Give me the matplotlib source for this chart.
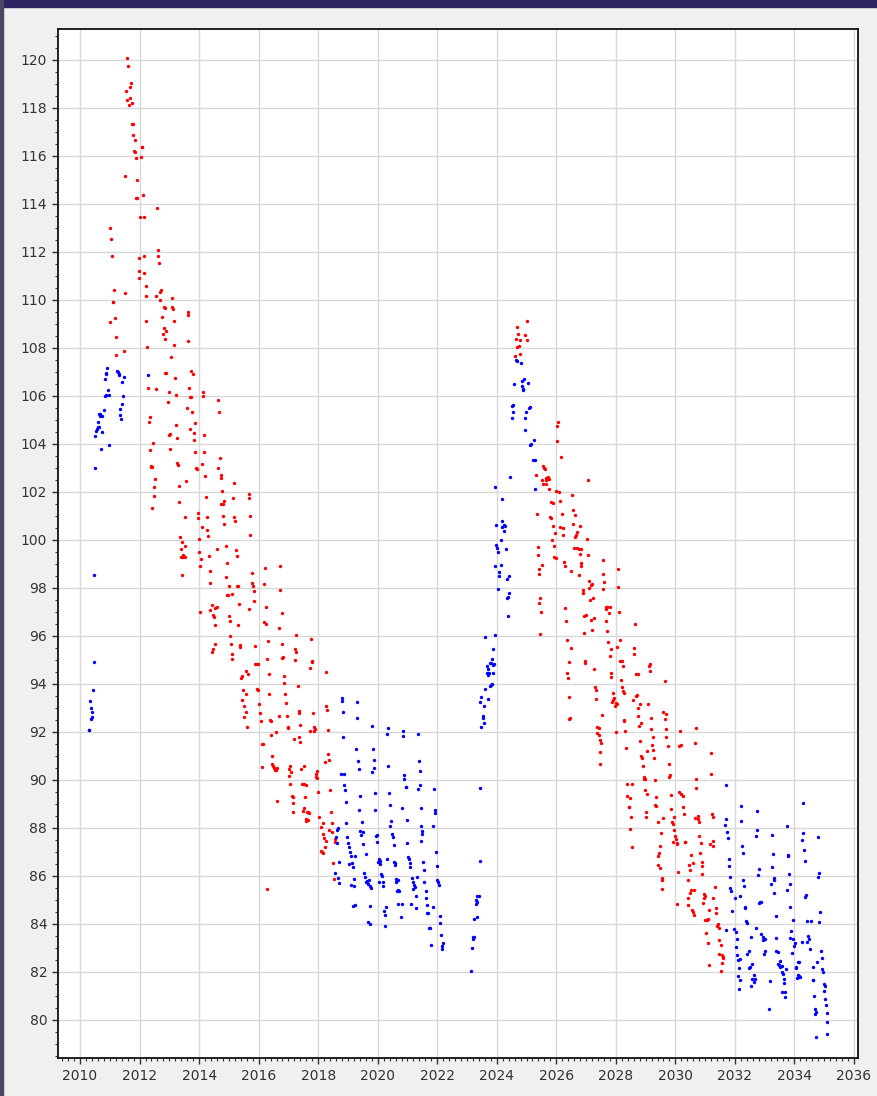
import numpy as np
import matplotlib
matplotlib.use("Agg")
import matplotlib.pyplot as plt
from matplotlib.patches import Rectangle
from matplotlib.ticker import MultipleLocator

# (year, value) pairs, red = declining phase, blue = low / rising phase
red_peak_2011 = [
    (2011.59, 120.07), (2011.61, 119.76), (2011.70, 119.03), (2011.67, 118.89), (2011.55, 118.71),
    (2011.68, 118.42), (2011.57, 118.35), (2011.75, 118.22), (2011.65, 118.14), (2011.75, 117.35),
    (2011.78, 117.35), (2011.77, 116.89), (2011.84, 116.67), (2012.07, 116.36), (2012.09, 116.38),
    (2011.81, 116.22), (2011.86, 116.15), (2011.88, 115.93), (2012.05, 115.95), (2011.52, 115.18),
    (2011.93, 115.00), (2012.10, 114.39), (2011.89, 114.25), (2011.91, 114.23), (2012.59, 113.85),
    (2012.03, 113.46), (2012.14, 113.46), (2011.02, 113.01), (2011.04, 112.54), (2012.61, 112.07),
    (2011.06, 111.83), (2012.63, 111.83), (2011.97, 111.75), (2012.16, 111.82), (2012.65, 111.53),
    (2011.97, 111.22), (2012.16, 111.12), (2011.99, 110.90), (2011.14, 110.43), (2011.51, 110.30),
    (2012.20, 110.60), (2012.71, 110.42), (2012.69, 110.35), (2012.56, 110.18), (2012.22, 110.18),
    (2013.10, 110.10), (2011.12, 109.93), (2011.10, 109.90), (2012.67, 109.99), (2012.81, 109.70),
    (2012.84, 109.65), (2013.09, 109.72), (2013.13, 109.63), (2013.62, 109.51), (2013.64, 109.39),
    (2012.75, 109.30), (2011.16, 109.25), (2010.99, 109.07), (2012.23, 109.13), (2013.14, 109.13),
    (2012.82, 108.82), (2012.90, 108.71), (2012.78, 108.57), (2012.87, 108.38), (2011.20, 108.45),
    (2013.62, 108.28), (2013.17, 108.11), (2012.26, 108.05), (2011.49, 107.86), (2011.21, 107.71),
    (2013.07, 107.63), (2012.87, 106.97), (2012.90, 106.97), (2013.74, 107.04), (2013.80, 106.93),
    (2013.19, 106.75), (2012.29, 106.35), (2012.54, 106.28), (2013.67, 106.32), (2014.13, 106.18),
    (2014.14, 106.01), (2012.98, 106.15), (2013.21, 106.03), (2013.70, 105.96), (2013.73, 105.96),
    (2012.96, 105.74), (2014.65, 105.82), (2013.58, 105.51), (2013.77, 105.32), (2014.67, 105.32),
    (2012.34, 105.14), (2012.32, 104.92), (2013.85, 104.86), (2013.23, 104.79), (2013.71, 104.61),
    (2013.82, 104.46), (2013.03, 104.42), (2013.00, 104.36), (2014.17, 104.38), (2013.25, 104.26),
    (2013.83, 104.18), (2012.44, 104.04), (2012.34, 103.76), (2013.02, 103.79), (2013.87, 103.67),
    (2014.17, 103.67), (2014.69, 103.43), (2013.26, 103.22), (2013.28, 103.13), (2014.11, 103.17),
    (2012.37, 103.05), (2012.39, 103.09), (2012.42, 103.02), (2013.90, 103.00), (2013.92, 102.94),
    (2014.62, 103.01), (2014.74, 102.70), (2014.72, 102.58), (2014.21, 102.67), (2012.53, 102.54),
    (2013.57, 102.46), (2015.16, 102.38), (2012.49, 102.19), (2013.34, 102.26), (2014.78, 102.04),
    (2012.50, 101.83), (2015.69, 101.90), (2015.67, 101.74), (2014.23, 101.78), (2015.14, 101.74),
    (2014.84, 101.61), (2014.75, 101.50), (2014.79, 101.49), (2013.31, 101.58), (2012.42, 101.35),
    (2013.53, 100.97), (2013.95, 101.14), (2013.95, 100.92), (2014.25, 100.97), (2014.81, 101.01),
    (2015.18, 100.96), (2015.21, 100.80), (2015.71, 100.99), (2014.85, 100.67), (2014.09, 100.53),
    (2014.28, 100.40), (2014.30, 100.18), (2015.72, 100.21), (2013.36, 100.14), (2013.98, 100.03),
    (2013.43, 99.90), (2013.54, 99.76), (2013.38, 99.63), (2014.60, 99.63), (2014.89, 99.75),
    (2015.23, 99.58),
]

red_decline_2014 = [
    (2014.00, 99.51), (2014.07, 99.20), (2014.03, 98.92), (2014.33, 99.33), (2015.26, 99.33),
    (2013.45, 99.30), (2013.47, 99.38), (2013.40, 99.28), (2013.52, 99.28), (2013.44, 98.54),
    (2014.35, 98.72), (2014.93, 99.03), (2014.90, 98.45), (2014.38, 98.22), (2015.00, 98.08),
    (2015.27, 98.08), (2015.29, 98.06), (2015.76, 98.63), (2016.23, 98.83), (2016.71, 98.90),
    (2015.78, 98.22), (2015.80, 98.08), (2015.84, 97.86), (2016.19, 98.15), (2016.73, 97.90),
    (2014.94, 97.71), (2014.97, 97.71), (2015.12, 97.74), (2015.84, 97.46), (2015.35, 97.35),
    (2015.66, 97.13), (2014.42, 97.28), (2014.59, 97.21), (2014.55, 97.17), (2014.37, 97.08),
    (2014.04, 97.01), (2014.46, 96.88), (2014.49, 96.80), (2015.02, 96.82), (2014.52, 96.47),
    (2015.04, 96.64), (2015.32, 96.44), (2016.24, 97.22), (2016.77, 96.96), (2016.18, 96.60),
    (2016.25, 96.50), (2016.70, 96.35), (2015.05, 96.00), (2014.55, 95.68), (2014.47, 95.46),
    (2014.43, 95.35), (2015.08, 95.65), (2015.36, 95.63), (2015.38, 95.55), (2015.09, 95.25),
    (2015.12, 95.03), (2015.89, 95.58), (2016.33, 95.79), (2016.78, 95.65), (2017.26, 96.03),
    (2017.76, 95.88), (2017.22, 95.46), (2017.27, 95.33), (2016.28, 95.03), (2016.81, 95.14),
    (2016.80, 95.08), (2017.21, 95.01), (2017.78, 94.96), (2017.80, 94.90), (2017.73, 94.67),
    (2018.27, 94.50), (2015.56, 94.53), (2015.89, 94.83), (2015.95, 94.83), (2015.99, 94.85),
    (2015.64, 94.43), (2015.45, 94.31), (2015.42, 94.24), (2016.35, 94.43), (2016.84, 94.33),
    (2016.86, 94.05), (2017.31, 93.93), (2015.93, 93.80), (2015.97, 93.76), (2015.49, 93.75),
    (2015.59, 93.57), (2016.36, 93.57), (2016.89, 93.60), (2015.45, 93.33), (2015.51, 93.07),
    (2016.02, 93.17), (2016.91, 93.21), (2018.25, 93.10), (2018.30, 92.90), (2015.56, 92.82),
    (2015.52, 92.61), (2016.05, 92.78), (2016.67, 92.67), (2016.94, 92.67), (2017.35, 92.88),
    (2017.34, 92.78), (2017.81, 92.78), (2016.08, 92.46), (2016.38, 92.51), (2016.41, 92.47),
    (2015.61, 92.21), (2016.97, 92.22), (2016.99, 92.18), (2017.40, 92.28), (2017.85, 92.20),
    (2017.88, 92.13), (2017.73, 92.05), (2017.86, 92.05), (2018.32, 92.08), (2016.57, 92.01),
    (2016.43, 91.86), (2017.19, 91.72), (2017.36, 91.78), (2017.39, 91.57), (2016.12, 91.51),
    (2016.15, 91.49), (2018.34, 91.08), (2018.24, 90.76), (2018.35, 90.83), (2016.46, 91.00),
    (2016.45, 90.67), (2016.12, 90.54), (2016.49, 90.56), (2016.53, 90.49), (2016.57, 90.47),
    (2016.63, 90.50), (2016.55, 90.42), (2016.59, 90.42), (2017.06, 90.56), (2017.01, 90.45),
    (2017.10, 90.31), (2017.03, 90.17), (2017.51, 90.60), (2017.43, 90.47), (2017.97, 90.39),
    (2017.93, 90.24), (2017.92, 90.14), (2017.95, 90.10), (2017.07, 89.85), (2017.45, 89.83),
    (2017.52, 89.82), (2017.58, 89.78), (2018.00, 89.51), (2018.40, 89.58), (2017.12, 89.32),
    (2017.16, 89.28), (2017.57, 89.28), (2016.63, 89.14), (2017.16, 89.03), (2017.16, 88.68),
    (2017.53, 88.83), (2017.50, 88.72), (2017.61, 88.67), (2017.65, 88.68), (2017.70, 88.64),
    (2018.42, 88.68), (2018.04, 88.45), (2017.58, 88.38), (2017.60, 88.29), (2017.67, 88.32),
    (2018.15, 88.22), (2018.08, 88.05), (2018.46, 88.21), (2018.36, 87.92), (2018.47, 87.83),
    (2018.16, 87.74), (2018.19, 87.57), (2018.26, 87.47), (2018.22, 87.22), (2018.55, 87.53),
    (2018.57, 87.43), (2018.08, 87.05), (2018.15, 86.97), (2018.13, 87.01), (2018.49, 86.53),
    (2018.52, 85.86), (2016.28, 85.46),
]

red_peak_2025 = [
    (2025.01, 109.13), (2024.68, 108.86), (2024.73, 108.60), (2024.96, 108.54), (2025.02, 108.33),
    (2024.65, 108.39), (2024.78, 108.33), (2024.74, 108.10), (2024.68, 108.04), (2024.79, 107.74),
    (2024.60, 107.67), (2026.05, 104.93), (2026.03, 104.76), (2026.01, 104.13), (2026.16, 103.47),
    (2025.55, 103.08), (2025.60, 103.01), (2025.62, 102.96), (2025.32, 102.71), (2025.65, 102.60),
    (2025.71, 102.61), (2025.75, 102.54), (2025.67, 102.50), (2025.72, 102.53), (2025.52, 102.50),
    (2025.56, 102.35), (2025.66, 102.32), (2025.75, 102.14), (2027.07, 102.50), (2025.98, 102.03),
    (2026.09, 102.01), (2025.82, 101.60), (2025.88, 101.53), (2026.12, 101.64), (2026.53, 101.86),
    (2025.34, 101.08), (2025.80, 100.96), (2025.83, 100.92), (2026.18, 101.08), (2026.56, 101.26),
    (2026.62, 101.03), (2025.88, 100.58), (2026.14, 100.55), (2026.24, 100.49), (2026.55, 100.68),
    (2026.79, 100.60), (2025.95, 100.28), (2026.22, 100.19), (2026.70, 100.33), (2026.66, 100.21),
    (2026.64, 100.13), (2027.03, 100.05), (2025.86, 100.01), (2025.37, 99.72), (2025.91, 99.75),
    (2026.59, 99.68), (2026.68, 99.68), (2026.75, 99.61), (2026.82, 99.63), (2026.81, 99.42),
    (2027.08, 99.39), (2025.39, 99.39), (2025.93, 99.30), (2025.98, 99.24), (2025.51, 98.95),
    (2026.26, 99.08), (2026.29, 98.90), (2026.84, 99.03), (2026.82, 98.93), (2025.41, 98.80),
    (2025.43, 98.60), (2026.51, 98.71), (2026.77, 98.53), (2027.11, 98.30), (2027.19, 98.17),
    (2027.16, 98.13), (2027.11, 97.99), (2026.90, 97.92), (2026.89, 97.80), (2027.23, 97.58),
    (2027.14, 97.49), (2025.45, 97.60), (2025.43, 97.39), (2025.49, 97.01), (2026.30, 97.15),
    (2026.31, 96.63), (2027.00, 96.88), (2026.92, 96.85), (2027.16, 96.67), (2027.26, 96.76),
    (2027.21, 96.26), (2026.94, 96.14), (2025.45, 96.07), (2026.37, 95.83), (2026.48, 95.50),
    (2026.41, 94.92), (2026.97, 94.97), (2026.95, 94.89), (2027.28, 94.64), (2026.35, 94.47),
    (2026.38, 94.25),
]

red_decline_2028 = [
    (2027.58, 99.17), (2028.08, 98.79), (2027.58, 98.57), (2027.61, 98.25), (2027.56, 97.96),
    (2028.08, 98.04), (2027.66, 97.21), (2027.72, 97.22), (2027.80, 97.22), (2027.67, 97.13),
    (2027.77, 96.97), (2028.11, 97.01), (2027.68, 96.64), (2027.72, 96.22), (2028.63, 96.51),
    (2028.13, 95.85), (2027.75, 95.75), (2028.05, 95.55), (2027.83, 95.46), (2028.60, 95.51),
    (2027.81, 95.18), (2028.15, 94.97), (2028.20, 94.96), (2028.60, 95.24), (2028.24, 94.74),
    (2029.15, 94.83), (2029.12, 94.75), (2029.14, 94.53), (2027.85, 94.47), (2027.85, 94.29),
    (2028.18, 94.18), (2028.69, 94.43), (2028.73, 94.40), (2029.64, 94.14), (2027.30, 93.88),
    (2027.32, 93.75), (2026.43, 93.46), (2027.34, 93.38), (2028.21, 93.89), (2028.23, 93.70),
    (2027.90, 93.64), (2027.89, 93.32), (2027.95, 93.40), (2027.88, 93.26), (2027.99, 93.20),
    (2027.98, 93.08), (2028.05, 93.17), (2028.27, 93.61), (2028.71, 93.53), (2028.69, 93.49),
    (2028.59, 93.33), (2028.81, 93.18), (2029.09, 93.18), (2028.75, 92.99), (2027.52, 92.71),
    (2028.73, 92.68), (2028.26, 92.50), (2028.28, 92.47), (2029.17, 92.57), (2029.60, 92.85),
    (2029.70, 92.74), (2029.65, 92.53), (2026.44, 92.53), (2026.46, 92.60), (2028.83, 92.39),
    (2028.79, 92.25), (2027.38, 92.22), (2027.43, 92.18), (2027.38, 91.95), (2027.42, 91.86),
    (2027.46, 91.65), (2027.51, 91.55), (2028.02, 92.00), (2028.32, 92.03), (2029.19, 92.11),
    (2029.69, 92.11), (2030.15, 92.03), (2030.68, 92.15), (2029.24, 91.78), (2029.68, 91.78),
    (2028.80, 91.64), (2029.21, 91.47), (2029.26, 91.26), (2029.74, 91.42), (2030.13, 91.43),
    (2030.18, 91.46), (2030.66, 91.54), (2028.35, 91.35), (2029.05, 91.22), (2027.48, 91.17),
    (2028.85, 91.01), (2028.88, 90.92), (2029.29, 90.92), (2031.19, 91.11), (2027.47, 90.67),
    (2029.80, 90.68), (2028.91, 90.56), (2028.94, 90.14), (2028.98, 90.05), (2028.93, 90.03),
    (2029.33, 90.00), (2029.82, 90.20), (2029.80, 90.14), (2030.70, 90.05), (2031.19, 90.25),
    (2028.37, 89.83), (2028.54, 89.83), (2030.71, 89.67), (2028.97, 89.60), (2029.05, 89.40),
    (2028.36, 89.33), (2028.48, 89.24), (2029.35, 89.28), (2029.85, 89.39), (2030.11, 89.51),
    (2030.19, 89.42), (2030.26, 89.35), (2029.31, 88.97), (2029.36, 88.90), (2028.43, 88.89),
    (2028.45, 88.86), (2029.86, 88.79), (2030.24, 88.89), (2029.00, 88.68), (2029.03, 88.47),
    (2028.51, 88.47), (2029.59, 88.42), (2029.97, 88.45), (2029.88, 88.24), (2029.92, 88.15),
    (2030.29, 88.60), (2030.66, 88.43), (2030.77, 88.49), (2030.75, 88.39), (2030.78, 88.25),
    (2031.24, 88.57), (2031.25, 88.47), (2029.42, 88.26), (2028.47, 87.95), (2029.53, 87.78),
    (2029.96, 87.92), (2030.00, 87.67), (2030.03, 87.55), (2030.04, 87.36), (2029.91, 87.43),
    (2030.07, 87.33), (2030.81, 87.67), (2028.53, 87.21), (2030.33, 87.43), (2030.31, 87.40),
    (2030.85, 87.36), (2031.15, 87.35), (2031.26, 87.24), (2031.27, 87.47), (2029.47, 87.26),
    (2029.45, 86.95), (2029.43, 86.83), (2030.52, 86.86), (2030.83, 86.95), (2030.60, 86.55),
    (2030.47, 86.46), (2030.49, 86.24), (2029.40, 86.45), (2029.49, 86.35), (2030.88, 86.60),
    (2030.90, 86.42), (2030.89, 86.08), (2030.10, 86.15), (2029.56, 85.90), (2029.54, 85.83),
    (2029.55, 85.46), (2030.41, 85.82), (2031.34, 85.55), (2030.53, 85.42), (2030.62, 85.42),
    (2030.49, 85.28), (2030.44, 85.10), (2030.97, 85.26), (2030.99, 85.18), (2030.95, 85.10),
    (2031.26, 85.10), (2030.06, 84.83), (2030.44, 84.78), (2030.56, 84.58), (2030.58, 84.49),
    (2030.61, 84.39), (2031.13, 84.60), (2031.38, 84.65), (2031.35, 84.47), (2031.01, 84.17),
    (2031.08, 84.19), (2031.05, 84.15), (2031.43, 84.01), (2031.41, 83.90), (2031.45, 83.82),
    (2031.04, 83.64), (2031.47, 83.32), (2031.53, 83.13), (2031.08, 83.22), (2031.47, 82.76),
    (2031.57, 82.71), (2031.60, 82.62), (2031.56, 82.39), (2031.60, 82.58), (2031.12, 82.28),
    (2031.52, 82.05), (2030.93, 84.86),
]

blue_rise_2010 = [
    (2010.48, 98.54), (2010.46, 94.93), (2010.44, 93.76), (2010.34, 93.30), (2010.38, 93.01),
    (2010.41, 92.85), (2010.39, 92.64), (2010.36, 92.53), (2010.29, 92.08), (2010.31, 92.07),
    (2010.92, 107.17), (2010.88, 106.96), (2010.86, 106.93), (2010.84, 106.72), (2011.23, 107.05),
    (2011.26, 106.99), (2011.30, 106.92), (2011.32, 106.88), (2011.46, 106.81), (2011.40, 106.57),
    (2012.27, 106.89), (2010.95, 106.26), (2010.83, 106.01), (2010.86, 106.03), (2010.98, 106.04),
    (2011.44, 106.00), (2011.41, 105.68), (2010.79, 105.40), (2011.33, 105.45), (2010.64, 105.25),
    (2010.68, 105.18), (2010.75, 105.17), (2010.67, 105.24), (2011.35, 105.20), (2011.38, 105.04),
    (2010.60, 104.90), (2010.59, 104.71), (2010.56, 104.63), (2010.63, 104.70), (2010.54, 104.53),
    (2010.74, 104.51), (2010.51, 104.35), (2010.96, 103.95), (2010.69, 103.78), (2010.49, 102.99),
]

blue_trough_2020 = [
    (2018.80, 93.43), (2018.80, 93.29), (2019.32, 93.26), (2018.83, 92.82), (2019.31, 92.60),
    (2019.82, 92.25), (2020.35, 92.18), (2020.31, 91.93), (2020.85, 92.04), (2020.84, 91.85),
    (2021.35, 91.90), (2018.85, 91.79), (2019.27, 91.30), (2019.83, 91.30), (2019.34, 90.78),
    (2019.36, 90.46), (2019.86, 90.82), (2019.86, 90.50), (2019.80, 90.33), (2020.36, 90.58),
    (2021.38, 90.78), (2021.41, 90.39), (2018.76, 90.25), (2018.86, 90.25), (2020.89, 90.20),
    (2020.90, 90.04), (2020.94, 89.72), (2020.95, 89.69), (2021.43, 89.79), (2021.34, 89.64),
    (2021.89, 89.64), (2018.88, 89.79), (2018.90, 89.58), (2019.91, 89.47), (2020.37, 89.47),
    (2019.39, 89.32), (2018.93, 89.07), (2020.40, 88.96), (2020.82, 88.82), (2021.44, 88.82),
    (2021.91, 88.76), (2021.94, 88.64), (2019.38, 88.75), (2019.92, 88.74), (2020.97, 88.35),
    (2020.44, 88.28), (2020.40, 88.10), (2021.46, 88.07), (2021.49, 87.89), (2021.50, 87.74),
    (2021.86, 88.10), (2018.95, 88.22), (2019.46, 88.24), (2018.66, 87.99), (2018.62, 87.92),
    (2019.42, 87.89), (2019.50, 87.85), (2019.44, 87.72), (2019.97, 87.71), (2019.99, 87.43),
    (2019.94, 87.68), (2020.49, 87.74), (2020.50, 87.61), (2020.54, 87.29), (2018.98, 87.61),
    (2018.99, 87.36), (2019.04, 87.20), (2018.61, 87.61), (2018.62, 87.36), (2019.50, 87.33),
    (2020.97, 87.36), (2021.46, 87.46), (2018.71, 86.58), (2018.57, 86.11), (2018.68, 85.92),
    (2018.71, 85.72), (2019.07, 86.99), (2019.11, 86.85), (2019.04, 86.50), (2019.14, 86.53),
    (2019.18, 86.39), (2019.25, 86.83), (2019.21, 85.86), (2019.10, 85.61), (2019.19, 85.60),
    (2019.16, 84.75), (2019.23, 84.78), (2019.62, 86.92), (2019.53, 86.14), (2019.58, 85.97),
    (2019.65, 85.80), (2019.61, 85.76), (2019.70, 85.83), (2019.68, 85.65), (2019.77, 85.50),
    (2019.74, 85.58), (2019.75, 84.75), (2019.68, 84.07), (2019.73, 83.99), (2020.03, 86.70),
    (2020.09, 86.64), (2020.02, 86.57), (2020.07, 86.51), (2020.30, 86.71), (2020.11, 86.08),
    (2020.13, 86.01), (2020.05, 85.74), (2020.19, 85.74), (2020.19, 85.57), (2020.28, 84.71),
    (2020.21, 84.54), (2020.24, 84.38), (2020.25, 83.93), (2020.55, 86.58), (2020.58, 86.46),
    (2020.57, 86.53), (2020.63, 85.88), (2020.69, 85.82), (2020.60, 85.75), (2020.68, 85.43),
    (2020.71, 85.39), (2020.66, 85.39), (2020.69, 84.83), (2020.80, 84.82), (2020.77, 84.30),
    (2021.02, 86.78), (2021.07, 86.53), (2021.09, 86.38), (2021.05, 86.70), (2021.15, 85.92),
    (2021.32, 85.96), (2021.17, 85.76), (2021.21, 85.61), (2021.19, 85.45), (2021.25, 85.53),
    (2021.27, 85.18), (2021.11, 84.81), (2021.27, 84.68), (2021.53, 86.58), (2021.56, 86.25),
    (2021.57, 85.74), (2021.61, 85.38), (2021.62, 85.10), (2021.66, 84.79), (2021.66, 84.44),
    (2021.69, 84.46), (2021.71, 83.82), (2021.76, 83.82), (2021.86, 84.71), (2021.96, 87.01),
    (2021.99, 86.42), (2022.00, 85.83), (2022.03, 85.74), (2022.05, 85.61), (2022.08, 84.35),
    (2022.10, 84.05), (2022.13, 83.54), (2021.79, 83.14), (2022.18, 83.20), (2022.17, 83.06),
    (2022.15, 82.97),
]

blue_rise_2023 = [
    (2023.43, 89.67), (2023.42, 86.61), (2023.33, 85.17), (2023.39, 85.17), (2023.31, 85.00),
    (2023.33, 84.92), (2023.30, 84.83), (2023.34, 84.30), (2023.23, 84.22), (2023.19, 83.47),
    (2023.23, 83.45), (2023.21, 83.39), (2023.17, 83.01), (2023.15, 82.03), (2023.84, 95.03),
    (2023.86, 94.79), (2023.76, 94.86), (2023.81, 94.86), (2023.91, 94.81), (2023.67, 94.75),
    (2023.72, 94.61), (2023.66, 94.45), (2023.73, 94.45), (2023.86, 94.47), (2023.79, 93.95),
    (2023.83, 94.00), (2023.78, 93.92), (2023.62, 93.78), (2023.47, 93.47), (2023.45, 93.24),
    (2023.69, 93.38), (2023.56, 93.08), (2023.53, 92.67), (2023.55, 92.58), (2023.57, 92.39),
    (2023.46, 92.22), (2023.86, 95.45), (2023.62, 95.96), (2023.95, 96.05), (2023.70, 94.38),
    (2024.63, 107.49), (2024.69, 107.47), (2024.81, 107.39), (2024.91, 106.70), (2024.84, 106.63),
    (2025.05, 106.55), (2024.58, 106.49), (2024.86, 106.42), (2024.87, 106.30), (2024.89, 106.25),
    (2024.55, 105.63), (2024.52, 105.57), (2025.10, 105.55), (2025.07, 105.50), (2024.55, 105.32),
    (2024.99, 105.32), (2024.50, 105.10), (2024.95, 105.10), (2024.96, 104.58), (2025.24, 104.18),
    (2025.16, 103.99), (2025.13, 103.97), (2025.22, 103.35), (2025.27, 103.32), (2024.45, 102.63),
    (2025.28, 102.14), (2023.95, 102.19), (2024.16, 101.71), (2024.19, 100.80), (2023.98, 100.61),
    (2024.23, 100.61), (2024.19, 100.53), (2024.28, 100.60), (2024.24, 100.38), (2024.15, 100.01),
    (2023.99, 99.78), (2024.01, 99.68), (2024.04, 99.50), (2024.30, 99.64), (2023.93, 98.92),
    (2024.13, 98.96), (2024.07, 98.65), (2024.09, 98.49), (2024.42, 98.51), (2024.33, 98.36),
    (2024.04, 97.96), (2024.41, 97.80), (2024.37, 97.61), (2024.35, 97.57), (2024.37, 96.83),
]

blue_trough_2033 = [
    (2031.69, 89.80), (2032.22, 88.93), (2032.75, 88.70), (2031.70, 88.36), (2031.67, 88.13),
    (2031.75, 87.85), (2031.76, 87.57), (2032.19, 88.29), (2032.75, 87.92), (2032.72, 87.68),
    (2032.24, 87.25), (2032.26, 86.96), (2031.79, 86.70), (2031.81, 86.42), (2031.84, 85.96),
    (2032.82, 86.28), (2032.79, 86.04), (2032.27, 85.83), (2032.30, 85.57), (2031.83, 85.49),
    (2031.87, 85.39), (2031.99, 85.07), (2032.17, 85.17), (2031.89, 84.54), (2032.35, 84.72),
    (2032.34, 84.67), (2032.36, 84.13), (2032.41, 84.05), (2031.71, 83.75), (2031.98, 83.79),
    (2032.03, 83.67), (2032.08, 83.39), (2032.55, 83.45), (2032.03, 83.03), (2032.70, 83.82),
    (2032.46, 82.89), (2032.41, 82.75), (2032.08, 82.71), (2032.10, 82.50), (2032.18, 82.54),
    (2032.59, 82.31), (2032.46, 82.18), (2032.52, 82.20), (2032.13, 82.18), (2032.65, 81.86),
    (2032.56, 81.72), (2032.67, 81.72), (2032.09, 81.83), (2032.16, 81.68), (2032.64, 81.58),
    (2032.53, 81.40), (2032.14, 81.29), (2032.82, 84.89), (2034.29, 89.03), (2033.76, 88.07),
    (2033.23, 87.71), (2034.30, 87.78), (2034.26, 87.50), (2034.80, 87.64), (2033.28, 86.90),
    (2033.78, 86.89), (2033.80, 86.85), (2034.33, 87.07), (2034.34, 86.61), (2033.26, 86.36),
    (2033.83, 86.08), (2034.82, 86.11), (2034.79, 85.97), (2033.32, 85.90), (2033.30, 85.82),
    (2033.21, 85.67), (2033.85, 85.68), (2033.74, 85.43), (2033.33, 85.30), (2034.39, 85.21),
    (2034.37, 85.14), (2032.85, 84.92), (2032.87, 84.90), (2033.86, 84.72), (2033.37, 84.32),
    (2034.86, 84.50), (2033.95, 84.18), (2034.41, 84.13), (2034.55, 84.13), (2034.84, 84.07),
    (2032.89, 83.57), (2032.94, 83.47), (2032.94, 83.35), (2033.01, 83.36), (2032.97, 82.74),
    (2033.01, 82.89), (2033.39, 83.42), (2033.86, 83.42), (2033.90, 83.72), (2033.95, 83.39),
    (2034.02, 83.20), (2033.99, 83.06), (2033.93, 82.78), (2034.44, 83.51), (2034.49, 83.36),
    (2034.43, 83.24), (2034.24, 83.24), (2033.39, 82.88), (2033.45, 82.83), (2034.53, 82.97),
    (2034.90, 82.88), (2034.91, 82.60), (2033.53, 82.47), (2033.49, 82.29), (2033.57, 82.26),
    (2033.52, 82.20), (2033.46, 82.33), (2033.73, 82.13), (2034.06, 82.20), (2034.04, 82.15),
    (2034.13, 82.42), (2034.15, 82.43), (2034.62, 82.20), (2034.77, 82.40), (2034.92, 82.13),
    (2034.96, 81.99), (2033.59, 81.99), (2033.63, 81.92), (2034.12, 81.86), (2034.14, 81.80),
    (2034.20, 81.80), (2034.10, 81.75), (2034.17, 81.84), (2034.61, 81.65), (2034.64, 81.67),
    (2033.65, 81.71), (2033.18, 81.61), (2033.66, 81.55), (2034.98, 81.49), (2035.03, 81.42),
    (2033.68, 81.18), (2033.59, 81.18), (2033.68, 80.96), (2034.99, 81.22), (2034.65, 81.01),
    (2035.03, 80.89), (2033.15, 80.46), (2035.05, 80.64), (2034.68, 80.46), (2034.72, 80.33),
    (2034.69, 80.24), (2035.11, 80.28), (2035.08, 79.90), (2034.72, 79.29), (2035.09, 79.40),
]

red_groups = [red_peak_2011, red_decline_2014, red_peak_2025, red_decline_2028]
blue_groups = [blue_rise_2010, blue_trough_2020, blue_rise_2023, blue_trough_2033]

fig = plt.figure(figsize=(8.77, 10.96), dpi=100, facecolor="#f0f0f0")
ax = fig.add_axes([0.0665, 0.0344, 0.9113, 0.9389])
ax.set_facecolor("white")

for group in red_groups:
    xs, ys = np.array(group).T
    ax.scatter(xs, ys, s=6, color="#ff0000", linewidths=0, zorder=3)
for group in blue_groups:
    xs, ys = np.array(group).T
    ax.scatter(xs, ys, s=6, color="#0000ff", linewidths=0, zorder=3)

ax.set_xlim(2009.27, 2036.12)
ax.set_ylim(78.40, 121.28)

ax.xaxis.set_major_locator(MultipleLocator(2))
ax.xaxis.set_minor_locator(MultipleLocator(0.2))
ax.yaxis.set_major_locator(MultipleLocator(2))
ax.yaxis.set_minor_locator(MultipleLocator(0.5))

ax.grid(True, which="major", color="#d8d8d8", linewidth=1.0, zorder=0)
ax.set_axisbelow(True)

ax.tick_params(axis="both", which="major", length=4, width=1, color="#333333",
               labelsize=10, labelcolor="#333333", pad=4)
ax.tick_params(axis="both", which="minor", length=2.5, width=0.8, color="#333333")
ax.tick_params(top=False, right=False)

for side in ax.spines.values():
    side.set_color("#111111")
    side.set_linewidth(1.3)

# window title strip and left frame edge
fig.add_artist(Rectangle((0, 1 - 7 / 1096), 1, 7 / 1096, transform=fig.transFigure,
                         color="#2b2460", zorder=10))
fig.add_artist(Rectangle((0, 0), 3 / 877, 1, transform=fig.transFigure,
                         color="#4a4560", zorder=10))

fig.savefig("out.png", dpi=100, facecolor=fig.get_facecolor())
